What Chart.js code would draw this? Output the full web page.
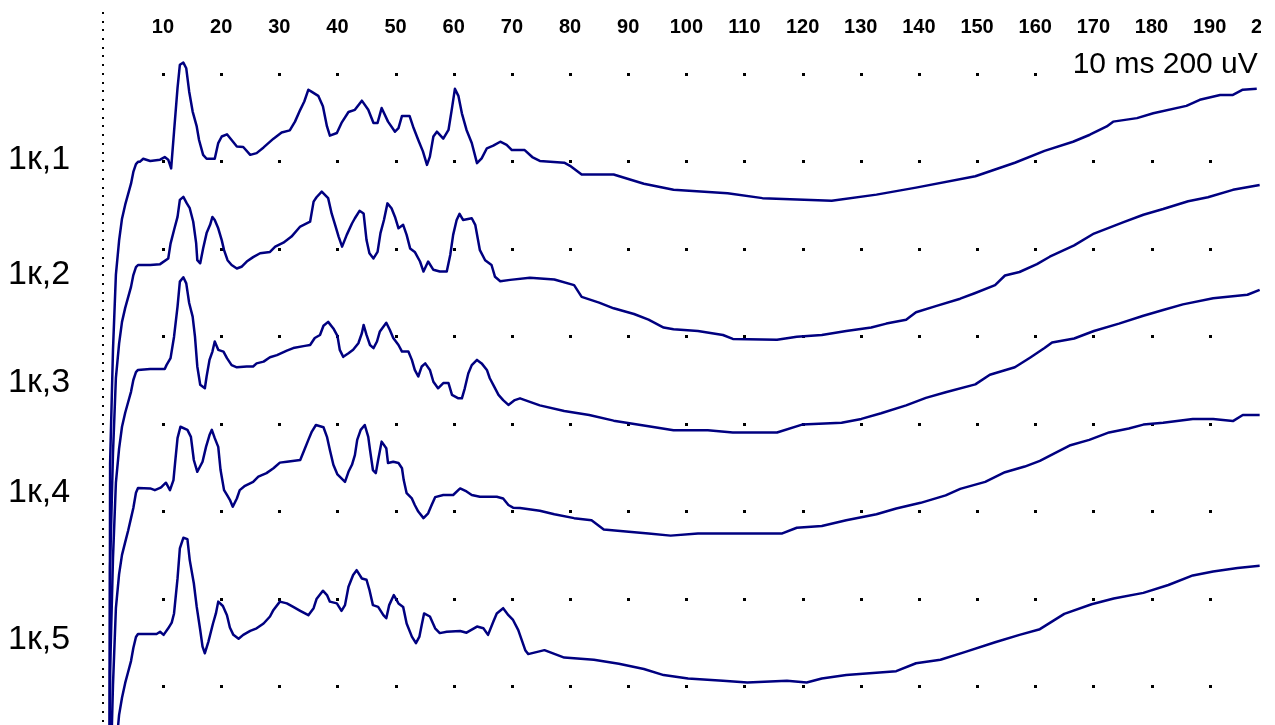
<!DOCTYPE html>
<html>
<head>
<meta charset="utf-8">
<title>1к evoked responses</title>
<script src="https://cdn.jsdelivr.net/npm/chart.js@4.4.1/dist/chart.umd.min.js"></script>
<style>
  html, body { margin: 0; padding: 0; background: #fff; }
  #frame { position: absolute; left: 0; top: 0; width: 1261px; height: 725px; overflow: hidden; background: #fff; }
  canvas { display: block; }
</style>
</head>
<body>
<div id="frame"><canvas id="c" width="1275" height="725"></canvas></div>
<script>
// Sweep names and the resting level (uV) each sweep is drawn around
const traceNames = ['1к,1', '1к,2', '1к,3', '1к,4', '1к,5'];
const traceOffsets = [1199, 963, 723, 453, 119];

// Dot grid: every 10 ms, every 200 uV
const gridTimes = [10, 20, 30, 40, 50, 60, 70, 80, 90, 100, 110, 120, 130, 140, 150, 160, 170, 180, 190, 200];
const gridLevels = [0, 200, 400, 600, 800, 1000, 1200, 1400];

// Sweeps: [time ms, amplitude uV relative to the sweep's resting level]
const trace1 = [
  [0,-3000],[0.6,-3000],[0.9,-690],[1.4,-430],[1.9,-258],[2.45,-180],[2.95,-130],[3.5,-98],[4.0,-74],[4.5,-50],[4.9,-23],[5.35,-5],[5.7,0],
  [6.0,0],[6.6,7],[7.8,2],[9.5,5],[10.3,11],[10.9,5],[11.4,-15],[11.9,69],[12.5,169],[12.9,222],[13.5,227],[14.0,214],[14.5,161],
  [15.1,115],[15.8,81],[16.2,50],[16.9,16],[17.5,7],[18.9,7],[19.5,43],[20.1,58],[21.0,63],[21.8,50],[22.7,35],[23.8,34],[25.0,16],
  [26.1,20],[27.3,33],[29.0,53],[30.4,67],[31.8,72],[32.7,92],[33.6,119],[34.3,138],[35.0,165],[35.6,160],[36.7,151],[37.5,127],
  [38.2,81],[38.7,60],[39.9,66],[40.7,89],[41.9,114],[43.0,119],[44.2,140],[45.3,119],[46.2,89],[46.9,89],[47.6,123],[48.7,92],
  [49.9,69],[50.5,77],[51.1,105],[52.4,105],[53.0,81],[53.9,50],[54.7,24],[55.4,-7],[55.9,12],[56.5,58],[57.1,69],[58.2,53],
  [59.1,73],[59.7,123],[60.2,167],[60.8,151],[61.4,111],[62.2,73],[63.1,43],[64.0,-3],[64.8,8],[65.7,31],[66.8,37],[68.0,46],
  [69.1,39],[70.0,27],[72.2,27],[73.5,11],[74.8,2],[79.0,-2],[80.0,-9],[82.0,-29],[87.5,-29],[92.7,-50],[97.8,-64],[107.1,-72],
  [113.1,-83],[125.0,-89],[132.7,-75],[139.5,-59],[149.7,-33],[156.5,-2],[161.6,25],[166.5,46],[169.4,62],[172.3,81],[173.4,92],
  [177.5,100],[180.3,111],[186.0,128],[188.3,142],[191.8,153],[194.0,153],[195.7,165],[198.1,167]
];
const trace2 = [
  [0,-3000],[0.6,-3000],[0.9,-690],[1.4,-430],[1.9,-258],[2.45,-180],[2.95,-130],[3.5,-98],[4.0,-74],[4.5,-50],[4.9,-23],[5.35,-5],[5.7,0],
  [7.8,0],[9.5,2],[10.9,15],[11.3,49],[11.9,80],[12.5,110],[12.9,149],[13.5,156],[14.1,141],[14.6,130],[15.2,99],[15.7,50],[15.9,11],
  [16.4,4],[16.9,38],[17.5,73],[18.1,92],[18.5,110],[18.9,103],[19.5,84],[20.1,57],[20.5,34],[21.1,11],[21.8,0],[22.7,-8],[23.5,-4],
  [24.4,8],[25.5,18],[26.7,27],[28.4,30],[29.3,42],[30.7,51],[32.1,65],[33.6,88],[35.3,99],[35.9,145],[36.4,155],[37.3,168],[38.4,153],
  [39.0,118],[39.6,92],[40.2,65],[40.8,42],[41.6,69],[42.5,95],[43.0,107],[43.8,124],[44.5,118],[45.0,57],[45.5,27],[46.2,15],[46.9,30],
  [47.4,73],[48.0,103],[48.6,141],[49.3,130],[49.9,110],[50.5,84],[51.3,92],[51.9,69],[52.5,38],[53.3,30],[54.2,8],[54.8,-15],[55.6,8],
  [56.5,-11],[57.6,-15],[58.8,-15],[59.4,23],[59.9,69],[60.5,103],[61.0,117],[61.6,103],[63.1,107],[63.7,92],[64.5,34],[65.4,11],
  [66.5,0],[67.1,-27],[68.0,-37],[69.7,-34],[73.1,-29],[77.3,-33],[80.7,-46],[82.0,-73],[85.0,-86],[87.5,-99],[91.0,-112],[93.5,-125],
  [96.1,-143],[97.8,-147],[102.0,-151],[106.3,-160],[108.0,-169],[115.6,-171],[119.0,-164],[123.3,-160],[127.5,-151],[131.8,-143],
  [134.4,-134],[137.8,-125],[139.5,-108],[142.9,-94],[147.1,-77],[149.7,-64],[153.1,-46],[154.8,-24],[157.3,-16],[160.3,2],[162.5,19],
  [166.7,45],[170.1,72],[175.2,98],[178.6,115],[182.0,128],[186.3,146],[189.7,155],[194.0,172],[198.6,183]
];
const trace3 = [
  [0,-3000],[0.6,-3000],[0.9,-690],[1.4,-430],[1.9,-258],[2.45,-180],[2.95,-130],[3.5,-98],[4.0,-74],[4.5,-50],[4.9,-23],[5.35,-5],[5.7,0],
  [7.8,2],[10.3,2],[10.6,11],[11.3,27],[11.9,76],[12.5,145],[12.9,202],[13.5,212],[14.0,198],[14.5,153],[15.1,122],[15.5,76],[15.9,8],
  [16.4,-34],[17.2,-42],[17.5,-15],[18.0,23],[18.5,42],[18.9,65],[19.5,46],[20.4,42],[21.0,27],[21.8,11],[22.7,6],[24.4,8],[25.5,8],
  [26.1,15],[27.3,19],[28.4,29],[29.6,34],[31.3,44],[32.4,50],[34.4,55],[35.3,57],[36.1,73],[37.0,80],[37.6,101],[38.4,110],[39.3,95],
  [40.0,78],[40.4,46],[41.0,30],[41.9,38],[42.7,46],[43.6,61],[44.2,84],[44.5,103],[45.0,80],[45.6,57],[46.2,50],[46.8,65],[47.3,88],
  [48.4,108],[49.0,92],[49.6,73],[50.5,57],[51.1,42],[52.2,42],[52.8,23],[53.3,0],[53.9,-15],[54.5,8],[55.1,15],[55.9,0],[56.5,-27],
  [57.3,-42],[58.2,-30],[59.1,-30],[59.7,-57],[60.8,-65],[61.4,-65],[61.9,-42],[62.5,-8],[63.1,11],[64.0,23],[64.8,15],[65.7,0],
  [66.2,-19],[66.8,-34],[67.7,-57],[68.5,-69],[69.4,-80],[70.5,-69],[71.4,-65],[74.8,-81],[79.0,-94],[83.3,-103],[87.5,-116],
  [93.5,-129],[97.8,-138],[103.7,-138],[108.0,-143],[115.6,-143],[119.9,-125],[126.7,-121],[130.1,-112],[133.5,-99],[137.8,-81],
  [141.2,-64],[144.6,-51],[149.7,-33],[152.2,-11],[156.5,6],[159.1,28],[161.6,50],[162.9,63],[166.7,72],[170.1,89],[174.4,106],
  [178.6,124],[182.0,137],[185.4,150],[190.6,164],[196.5,172],[198.6,183]
];
const trace4 = [
  [0,-3000],[0.6,-3000],[0.9,-700],[1.4,-450],[1.9,-275],[2.45,-197],[2.95,-153],[3.5,-124],[4.0,-98],[4.5,-69],[4.9,-46],[5.35,-11],[5.7,0],
  [7.8,-1],[8.6,-5],[9.5,0],[9.8,3],[10.5,12],[11.2,-5],[11.8,18],[12.1,60],[12.5,114],[13.0,140],[14.2,133],[14.8,117],[15.3,64],
  [15.9,37],[16.8,60],[17.4,94],[18.0,121],[18.4,133],[18.9,114],[19.5,94],[19.9,41],[20.5,-5],[21.0,-16],[21.5,-27],[22.0,-43],
  [22.7,-24],[23.2,-5],[24.1,5],[25.5,14],[26.4,26],[27.8,34],[29.0,45],[30.1,58],[31.3,60],[33.6,64],[34.3,87],[35.0,110],[35.6,129],
  [36.3,144],[37.6,139],[38.2,117],[38.7,87],[39.3,53],[40.0,31],[41.3,14],[41.9,37],[42.5,53],[43.0,75],[43.4,110],[44.0,133],
  [44.7,144],[45.3,117],[45.6,87],[46.1,41],[46.6,34],[47.0,64],[47.6,106],[48.4,91],[48.7,57],[49.6,60],[50.5,57],[51.1,45],[51.4,18],
  [51.9,-12],[52.8,-24],[53.3,-39],[53.9,-54],[54.8,-69],[55.6,-58],[56.2,-39],[56.8,-21],[58.2,-16],[59.9,-16],[61.1,-1],[62.2,-8],
  [63.1,-16],[64.5,-20],[67.4,-20],[68.5,-24],[69.4,-39],[70.2,-45],[71.4,-46],[74.8,-52],[77.3,-60],[80.7,-69],[83.7,-74],[85.8,-95],
  [90.1,-100],[93.5,-104],[97.3,-109],[102.0,-104],[108.8,-104],[116.5,-104],[119.0,-91],[123.3,-87],[127.5,-74],[132.7,-60],
  [136.1,-47],[140.3,-34],[144.6,-17],[147.1,-2],[151.4,14],[154.8,36],[158.2,49],[160.8,62],[163.3,79],[165.9,97],[169.3,110],
  [172.7,127],[176.1,136],[178.6,145],[182.0,149],[187.1,158],[190.6,158],[194.0,153],[195.7,167],[198.6,167]
];
const trace5 = [
  [0,-3000],[0.6,-3000],[0.9,-695],[1.4,-440],[1.9,-265],[2.45,-185],[2.95,-146],[3.5,-112],[4.0,-87],[4.5,-62],[4.9,-32],[5.35,-7],[5.7,0],
  [7.8,0],[8.9,0],[9.5,5],[10.1,-2],[10.9,13],[11.5,26],[11.9,47],[12.5,127],[12.9,196],[13.5,220],[14.2,217],[14.6,169],[15.3,116],
  [15.8,62],[16.4,9],[16.8,-29],[17.2,-44],[17.8,-18],[18.6,24],[19.1,47],[19.5,74],[20.3,64],[21.0,43],[21.5,15],[22.1,-2],[23.0,-11],
  [23.8,-2],[25.0,7],[26.1,13],[27.3,24],[28.4,40],[29.0,55],[30.1,74],[31.3,70],[32.4,62],[33.6,53],[35.0,43],[35.9,59],[36.4,80],
  [37.5,99],[38.2,89],[38.7,74],[39.9,70],[40.7,53],[41.3,66],[41.9,108],[42.7,135],[43.3,146],[44.2,127],[45.0,124],[45.5,101],
  [46.1,66],[47.0,62],[47.9,43],[48.4,36],[48.9,66],[49.7,89],[50.5,70],[51.3,62],[51.9,24],[52.8,-6],[53.5,-21],[54.1,-6],[54.5,21],
  [54.9,47],[55.9,40],[56.8,13],[57.6,2],[58.8,5],[61.1,7],[62.2,3],[64.0,17],[65.1,13],[65.9,-2],[66.8,28],[67.4,47],[68.5,59],
  [69.4,43],[70.2,32],[71.1,9],[71.7,-14],[72.3,-37],[72.8,-46],[75.6,-37],[79.0,-54],[84.1,-59],[88.4,-68],[92.7,-80],[96.1,-94],
  [100.3,-102],[106.3,-107],[110.5,-111],[117.3,-107],[120.7,-111],[123.3,-102],[127.5,-94],[136.1,-85],[139.5,-67],[143.7,-59],
  [148.0,-41],[153.1,-19],[157.3,-2],[160.8,11],[165.0,46],[169.7,68],[173.5,81],[178.6,94],[182.9,112],[187.1,134],[190.6,143],
  [194.8,151],[198.6,156]
];
const traces = [trace1, trace2, trace3, trace4, trace5];

const FONT = '"Liberation Sans", Arial, Helvetica, sans-serif';

// Grid dots, the dotted zero-time marker, sweep names and the calibration note
const decorPlugin = {
  id: 'decor',
  beforeDatasetsDraw(chart, args, opts) {
    const { ctx, scales: { x, y } } = chart;
    ctx.save();
    ctx.fillStyle = '#000';
    for (const t of gridTimes) {
      for (const v of gridLevels) {
        const px = Math.round(x.getPixelForValue(t));
        const py = Math.round(y.getPixelForValue(v));
        ctx.fillRect(px - 1, py - 1, 3, 3);
      }
    }
    // dotted line just left of time zero, ten dots per amplitude division
    const x0 = Math.round(x.getPixelForValue(0)) - 3;
    const step = (y.getPixelForValue(0) - y.getPixelForValue(200)) / 10;
    let yy = y.getPixelForValue(gridLevels[gridLevels.length - 1]);
    while (yy - step > 10) yy -= step;
    for (; yy < chart.height; yy += step) {
      ctx.fillRect(x0, Math.round(yy) - 1, 2, 2);
    }
    ctx.restore();
  },
  afterDraw(chart, args, opts) {
    const { ctx, scales: { x, y } } = chart;
    ctx.save();
    // calibration note in the top right corner
    const right = x.getPixelForValue(200) - 10;
    const base = y.getPixelForValue(1400) - 1;
    ctx.font = '30px ' + FONT;
    const w = ctx.measureText(opts.scaleNote).width;
    ctx.fillStyle = '#fff';
    ctx.fillRect(right - w - 6, base - 28, w + 10, 34);
    ctx.fillStyle = '#000';
    ctx.textAlign = 'right';
    ctx.textBaseline = 'alphabetic';
    ctx.fillText(opts.scaleNote, right, base);
    // sweep names on the left
    ctx.font = '34px ' + FONT;
    ctx.textAlign = 'left';
    traceNames.forEach((name, i) => {
      ctx.fillText(name, 8, y.getPixelForValue(opts.labelLevels[i]));
    });
    ctx.restore();
  }
};

const datasets = traces.map((tr, i) => ({
  label: traceNames[i],
  data: tr.map(([t, v]) => ({ x: t, y: traceOffsets[i] + v })),
  borderColor: '#000080',
  borderWidth: 2.5,
  borderJoinStyle: 'round',
  pointRadius: 0,
  tension: 0,
  fill: false
}));

new Chart(document.getElementById('c'), {
  type: 'line',
  data: { datasets },
  plugins: [decorPlugin],
  options: {
    responsive: false,
    animation: false,
    events: [],
    layout: { padding: { left: 104.85, right: 7.2, top: 0, bottom: 0 } },
    plugins: {
      legend: { display: false },
      tooltip: { enabled: false },
      decor: {
        scaleNote: '10 ms 200 uV',
        labelLevels: [1183, 920, 673, 421, 85]
      }
    },
    scales: {
      x: {
        type: 'linear',
        position: 'top',
        min: 0,
        max: 200,
        grid: { display: false, drawTicks: false },
        border: { display: false },
        ticks: {
          stepSize: 10,
          autoSkip: false,
          maxRotation: 0,
          minRotation: 0,
          padding: 17,
          color: '#000',
          font: { family: FONT, size: 20, weight: 'bold', lineHeight: 1 },
          callback: (v) => (v === 0 ? '' : String(v))
        },
        afterFit: (scale) => {
          scale.height = 54;
          scale.paddingLeft = 0;
          scale.paddingRight = 0;
        }
      },
      y: {
        type: 'linear',
        display: false,
        min: -89.2,
        max: 1445.7
      }
    }
  }
});
</script>
</body>
</html>
